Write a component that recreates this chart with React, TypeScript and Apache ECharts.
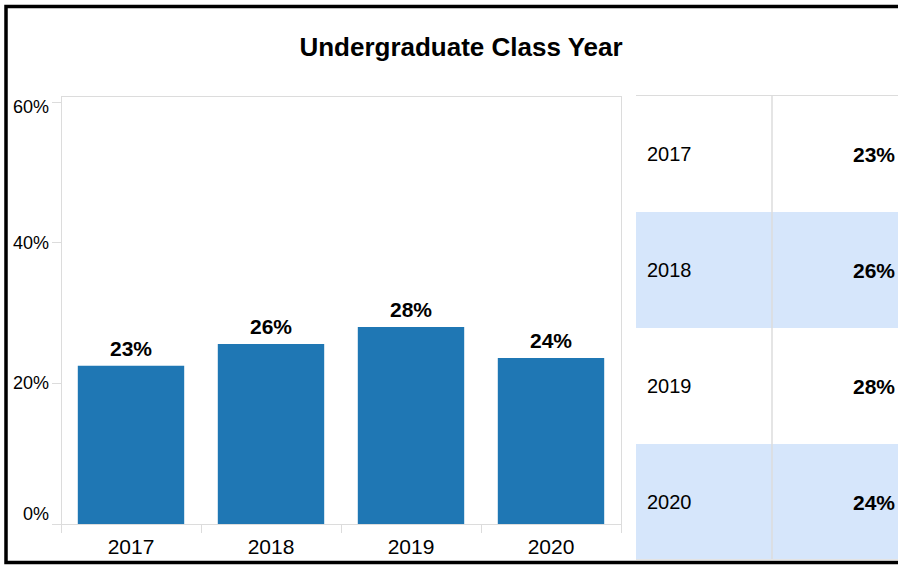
import React, { useEffect, useRef } from "react";
import * as echarts from "echarts";

const categories = ["2017", "2018", "2019", "2020"];
const shares = [22.5, 25.6, 28.0, 23.6];
const yTicks = [0, 20, 40, 60];
const titleText = "Undergraduate Class Year";

const FONT = "'Liberation Sans', Arial, Helvetica, sans-serif";
const GRID_C = "#dcdcdc";

export default function App() {
  const ref = useRef<HTMLDivElement>(null);
  useEffect(() => {
    if (!ref.current) return;
    const chart = echarts.init(ref.current, null, { renderer: "svg" });
    const pct = (v: number) => Math.round(v) + "%";

    const rowTop = 96;
    const rowH = 116;
    const tableElems: any[] = [];
    categories.forEach((c, i) => {
      const y = rowTop + rowH * i;
      if (i % 2 === 1) {
        tableElems.push({
          type: "rect",
          shape: { x: 636, y, width: 270, height: rowH },
          style: { fill: "#d6e6fb" },
          silent: true,
        });
      }
      tableElems.push({
        type: "text",
        x: 647,
        y: y + rowH / 2,
        style: {
          text: c,
          fontSize: 20,
          fontFamily: FONT,
          fill: "#000",
          align: "left",
          verticalAlign: "middle",
        },
      });
      tableElems.push({
        type: "text",
        x: 895,
        y: y + rowH / 2,
        style: {
          text: pct(shares[i]),
          fontSize: 21,
          fontWeight: "bold",
          fontFamily: FONT,
          fill: "#000",
          align: "right",
          verticalAlign: "middle",
        },
      });
    });
    const tableBottom = rowTop + rowH * categories.length;

    const option: any = {
      animation: false,
      backgroundColor: "#fff",
      title: {
        text: titleText,
        left: 456,
        top: 29,
        textAlign: "center",
        textStyle: {
          fontFamily: FONT,
          fontSize: 26,
          fontWeight: "bold",
          color: "#000",
        },
      },
      grid: {
        left: 61,
        right: 277,
        top: 102,
        bottom: 42,
        containLabel: false,
        outerBoundsMode: "none",
      },
      xAxis: {
        type: "category",
        data: categories,
        axisLine: { show: true, lineStyle: { color: GRID_C, width: 1 } },
        axisTick: { show: true, length: 9, lineStyle: { color: GRID_C } },
        axisLabel: {
          fontFamily: FONT,
          fontSize: 21,
          color: "#000",
          margin: 12,
        },
        splitLine: { show: false },
      },
      yAxis: {
        type: "value",
        min: 0,
        max: 60,
        interval: 20,
        axisLine: { show: false },
        axisTick: { show: true, length: 9, lineStyle: { color: GRID_C } },
        splitLine: { show: false },
        axisLabel: {
          fontFamily: FONT,
          fontSize: 18,
          color: "#000",
          margin: 12,
          formatter: (v: number) =>
            v === yTicks[0]
              ? `{lo|${v}%}`
              : v === yTicks[yTicks.length - 1]
              ? `{hi|${v}%}`
              : `${v}%`,
          rich: {
            lo: { fontFamily: FONT, fontSize: 18, color: "#000", padding: [0, 0, 21, 0] },
            hi: { fontFamily: FONT, fontSize: 18, color: "#000", padding: [9, 0, 0, 0] },
          },
        },
      },
      series: [
        {
          type: "bar",
          data: shares,
          barWidth: "76%",
          itemStyle: { color: "#1f77b4" },
          label: {
            show: true,
            position: "top",
            distance: 7,
            formatter: (p: any) => pct(p.value),
            fontFamily: FONT,
            fontSize: 21,
            fontWeight: "bold",
            color: "#000",
          },
        },
      ],
      graphic: [
        {
          type: "line",
          shape: { x1: 61, y1: 96.5, x2: 621, y2: 96.5 },
          style: { stroke: GRID_C, lineWidth: 1 },
          silent: true,
        },
        {
          type: "line",
          shape: { x1: 61.5, y1: 96, x2: 61.5, y2: 533 },
          style: { stroke: GRID_C, lineWidth: 1 },
          silent: true,
        },
        {
          type: "line",
          shape: { x1: 621.5, y1: 96, x2: 621.5, y2: 533 },
          style: { stroke: GRID_C, lineWidth: 1 },
          silent: true,
        },
        ...tableElems,
        {
          type: "line",
          shape: { x1: 636, y1: 95.5, x2: 898, y2: 95.5 },
          style: { stroke: GRID_C, lineWidth: 1 },
          silent: true,
        },
        {
          type: "line",
          shape: { x1: 636, y1: tableBottom - 0.5, x2: 898, y2: tableBottom - 0.5 },
          style: { stroke: "#e4e4e4", lineWidth: 1 },
          silent: true,
        },
        {
          type: "line",
          shape: { x1: 772, y1: 95, x2: 772, y2: tableBottom - 1 },
          style: { stroke: GRID_C, lineWidth: 1.5 },
          silent: true,
        },
        {
          type: "rect",
          shape: { x: 6, y: 6.5, width: 1000, height: 556 },
          style: { fill: "none", stroke: "#000", lineWidth: 3.5 },
          silent: true,
          z: 100,
        },
      ],
    };
    chart.setOption(option);
    return () => chart.dispose();
  }, []);
  return (
    <div
      ref={ref}
      style={{ position: "absolute", left: 0, top: 0, width: 898, height: 566 }}
    />
  );
}
